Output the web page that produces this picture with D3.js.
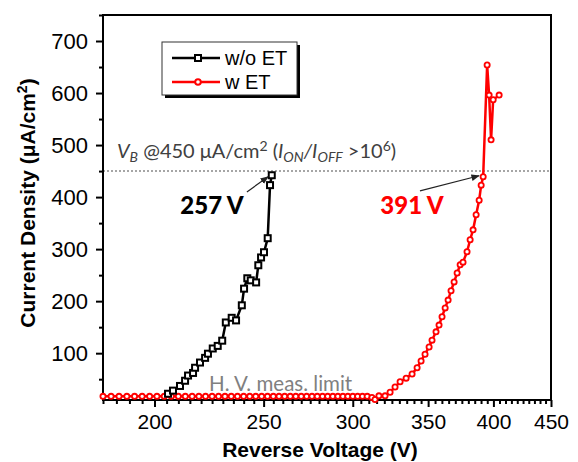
<!DOCTYPE html>
<html><head><meta charset="utf-8">
<script src="https://cdn.jsdelivr.net/npm/d3@7"></script>
<style>body{margin:0;background:#fff}svg{display:block}</style>
</head><body>
<svg id="c" width="578" height="462"></svg>
<script>
// ---- data ----
const xTickValues = [200, 250, 300, 350, 400, 450];
const xMinorTicks = [180,185,190,195,205,210,215,220,225,230,235,240,245,255,260,265,270,275,280,285,290,295,305,310,315,320,325,330,335,340,345,355,360,365,370,375,380,385,390,395,405,410,415,420,425,430,435,440,445];
const yTickValues = [100, 200, 300, 400, 500, 600, 700];
const yMinorTicks = [50, 150, 250, 350, 450, 550, 650, 750];
const seriesNames = ["w/o ET", "w ET"];

const blackV = [205.6,207.7,210.7,212.9,214.2,216.4,217.3,219.5,221.8,223.1,225.3,227.6,229.7,231.4,234.2,236.3,239.1,240.2,241.8,243.5,246.2,247.3,248.7,250.2,252.1,253.3,254.2];
const blackJ = [22,28,37,47,57,62,72,82,91,99,109,114,124,159,168,163,192,224,244,240,236,269,284,294,321,423,442];

const redV = [180,183,186,189,192,195,198,201,204,207,210,213,216,219,222,225,228,231,234,237,240,243,246,249,252,255,258,261,264,267,270,273,276,279,282,285,288,291,294,297,300,303,306,309,312,314,
  316.5,320.5,323.8,327.1,330.5,334.6,338.7,342.2,345,347.8,350.7,352.8,355.7,357.9,360.1,362.4,364.6,366.8,369.1,371.4,373.7,375.9,379,381.4,383.7,386.1,388.5,390.1,391.7,394.9,396.5,398.1,399.8,404.7];
const redJ = [17,17,17,17,17,17,17,17,17,17,17,17,17,17,17,17,17,17,17,17,17,17,17,17,17,17,17,17,17,17,17,17,17,17,17,17,17,17,17,17,17,17,17,17,15,11,
  18,18,25,35,45,52,60,72,85,98,112,125,141,154,170,187,202,220,237,254,270,275,295,318,337,366,394,423,439,654,596,510,587,596];

const thresholdJ = 450;
const arrowBlack = {from:[241.6,410], to:[252.3,439]};
const arrowRed = {from:[344.2,412], to:[388.4,441]};

// ---- chart ----
const svg = d3.select("#c");
const x = d3.scaleLog().domain([180, 450]).range([103, 551]);
const y = d3.scaleLinear().domain([10, 750]).range([400, 15]);
const sans = "'Liberation Sans', Arial, sans-serif";
const cal = "Lato, 'Open Sans', sans-serif";

svg.append("defs").append("marker").attr("id","ah").attr("viewBox","0 0 10 10")
  .attr("refX",9).attr("refY",5).attr("markerWidth",7).attr("markerHeight",7).attr("orient","auto")
  .append("path").attr("d","M0,1 L10,5 L0,9 z").attr("fill","#222");

// threshold dotted line
svg.append("line").attr("x1",x(180)).attr("x2",x(450)).attr("y1",y(thresholdJ)).attr("y2",y(thresholdJ))
  .attr("stroke","#a6a6a6").attr("stroke-width",2).attr("stroke-dasharray","2,2");

// axes
const gx = svg.append("g").attr("transform",`translate(0,${y(10)})`);
gx.call(d3.axisBottom(x).tickValues(xTickValues).tickFormat(d3.format("d")).tickSize(7).tickPadding(7));
const gxm = svg.append("g").attr("transform",`translate(0,${y(10)})`);
gxm.call(d3.axisBottom(x).tickValues(xMinorTicks).tickFormat("").tickSize(4));
const gy = svg.append("g").attr("transform",`translate(${x(180)},0)`);
gy.call(d3.axisLeft(y).tickValues(yTickValues).tickFormat(d3.format("d")).tickSize(7).tickPadding(8));
const gym = svg.append("g").attr("transform",`translate(${x(180)},0)`);
gym.call(d3.axisLeft(y).tickValues(yMinorTicks).tickFormat("").tickSize(4));
[gx,gxm,gy,gym].forEach(g=>{
  g.select(".domain").remove();
  g.selectAll(".tick line").attr("stroke","#000").attr("stroke-width",2);
  g.selectAll("text").attr("font-family",sans).attr("font-size",22).attr("fill","#000");
});
gx.selectAll("text").attr("font-size",21);

// frame
svg.append("rect").attr("x",x(180)).attr("y",y(750)).attr("width",x(450)-x(180)).attr("height",y(10)-y(750))
  .attr("fill","none").attr("stroke","#000").attr("stroke-width",2);

// series
const line = d3.line().x(d=>x(d[0])).y(d=>y(d[1]));
const blackData = blackV.map((v,i)=>[v,blackJ[i]]);
const redData = redV.map((v,i)=>[v,redJ[i]]);

svg.append("path").datum(redData).attr("d",line).attr("fill","none").attr("stroke","#ff0000").attr("stroke-width",2.5);
svg.selectAll(".rc").data(redData).enter().append("circle").attr("cx",d=>x(d[0])).attr("cy",d=>y(d[1])).attr("r",2.6)
  .attr("fill","#fff").attr("stroke","#ff0000").attr("stroke-width",1.8);

svg.append("path").datum(blackData).attr("d",line).attr("fill","none").attr("stroke","#000").attr("stroke-width",2.5);
svg.selectAll(".bs").data(blackData).enter().append("rect").attr("x",d=>x(d[0])-3).attr("y",d=>y(d[1])-3)
  .attr("width",6).attr("height",6).attr("fill","#fff").attr("stroke","#000").attr("stroke-width",2);

// axis titles
svg.append("text").attr("x",320).attr("y",457).attr("text-anchor","middle").attr("font-family",sans)
  .attr("font-weight","bold").attr("font-size",21).text("Reverse Voltage (V)");
svg.append("text").attr("transform","translate(35,203) rotate(-90)").attr("text-anchor","middle").attr("font-family",sans)
  .attr("font-weight","bold").attr("font-size",21).html("Current Density (μA/cm<tspan baseline-shift='super' font-size='14'>2</tspan>)");

// annotation text
const ann = svg.append("text").attr("x",117).attr("y",158).attr("font-family",cal).attr("font-size",20).attr("fill","#404040");
ann.append("tspan").attr("font-style","italic").text("V");
ann.append("tspan").attr("font-style","italic").attr("font-size",14).attr("dy",4).text("B");
ann.append("tspan").attr("dy",-4).text(" @450 μA/cm");
ann.append("tspan").attr("font-size",14).attr("dy",-7).text("2");
ann.append("tspan").attr("dy",7).text(" (");
ann.append("tspan").attr("font-style","italic").text("I");
ann.append("tspan").attr("font-style","italic").attr("font-size",14).attr("dy",4).text("ON");
ann.append("tspan").attr("dy",-4).attr("font-style","italic").text("/I");
ann.append("tspan").attr("font-style","italic").attr("font-size",14).attr("dy",4).text("OFF");
ann.append("tspan").attr("dy",-4).text(" >10");
ann.append("tspan").attr("font-size",14).attr("dy",-7).text("6");
ann.append("tspan").attr("dy",7).text(")");

svg.append("text").attr("x",212).attr("y",214).attr("text-anchor","middle").attr("font-family",cal).attr("font-weight","900")
  .attr("font-size",24).attr("fill","#000").text("257 V");
svg.append("text").attr("x",412).attr("y",214).attr("text-anchor","middle").attr("font-family",cal).attr("font-weight","900")
  .attr("font-size",24).attr("fill","#ff0000").text("391 V");
svg.append("text").attr("x",209).attr("y",391).attr("font-family",cal).attr("font-size",20.5).attr("fill","#808080").text("H. V. meas. limit");

[arrowBlack, arrowRed].forEach(a=>{
  svg.append("line").attr("x1",x(a.from[0])).attr("y1",y(a.from[1])).attr("x2",x(a.to[0])).attr("y2",y(a.to[1]))
    .attr("stroke","#222").attr("stroke-width",1.2).attr("marker-end","url(#ah)");
});

// legend
const lg = svg.append("g");
lg.append("rect").attr("x",165).attr("y",45).attr("width",135).attr("height",53).attr("fill","#000");
lg.append("rect").attr("x",162).attr("y",42).attr("width",135).attr("height",53).attr("fill","#fff").attr("stroke","#333").attr("stroke-width",1);
const legItems = [{name:seriesNames[0], color:"#000", shape:"sq"}, {name:seriesNames[1], color:"#ff0000", shape:"ci"}];
legItems.forEach((it,i)=>{
  const yy = 58 + i*24;
  lg.append("line").attr("x1",172).attr("x2",220).attr("y1",yy).attr("y2",yy).attr("stroke",it.color).attr("stroke-width",2.5);
  if (it.shape==="sq") lg.append("rect").attr("x",195).attr("y",yy-3).attr("width",6).attr("height",6).attr("fill","#fff").attr("stroke",it.color).attr("stroke-width",2);
  else lg.append("circle").attr("cx",198).attr("cy",yy).attr("r",2.8).attr("fill","#fff").attr("stroke",it.color).attr("stroke-width",2);
  lg.append("text").attr("x",225).attr("y",yy+7).attr("font-family",sans).attr("font-size",20).text(it.name);
});
</script>
</body></html>
